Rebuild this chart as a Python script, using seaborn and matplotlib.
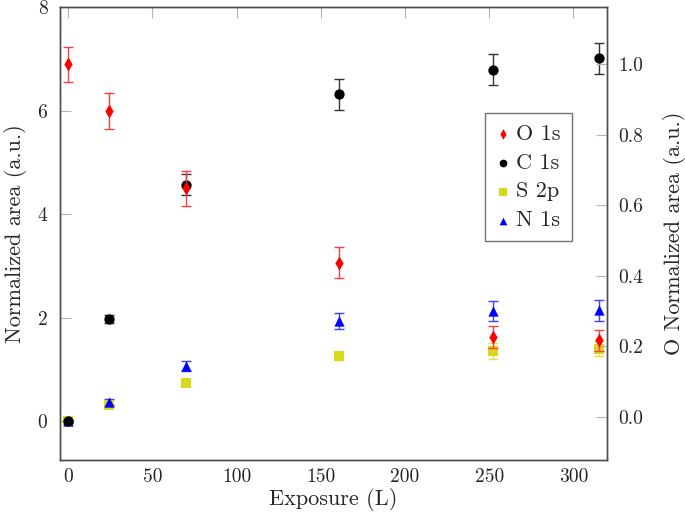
import matplotlib
matplotlib.use("Agg")
import pandas as pd
import seaborn as sns
import matplotlib.pyplot as plt

# exposure values (L)
exposure = [0, 24, 70, 161, 252, 315]

# left axis series
c1s = [0.0, 1.97, 4.57, 6.31, 6.79, 7.01]
c1s_err = [0.03, 0.08, 0.2, 0.3, 0.3, 0.3]
s2p = [0.0, 0.31, 0.74, 1.26, 1.36, 1.40]
s2p_err = [0.02, 0.03, 0.05, 0.08, 0.15, 0.15]
n1s = [0.0, 0.37, 1.07, 1.94, 2.13, 2.14]
n1s_err = [0.02, 0.05, 0.1, 0.15, 0.2, 0.2]

# right axis series
o1s = [1.0, 0.868, 0.649, 0.438, 0.227, 0.218]
o1s_err = [0.05, 0.051, 0.05, 0.045, 0.03, 0.03]

x_ticks = [0, 50, 100, 150, 200, 250, 300]
left_ticks = [0, 2, 4, 6, 8]
right_ticks = [0.0, 0.2, 0.4, 0.6, 0.8, 1.0]

sns.set_style("white")
plt.rcParams["font.family"] = ["cmr10", "DejaVu Serif"]
plt.rcParams["mathtext.fontset"] = "cm"
plt.rcParams["axes.formatter.use_mathtext"] = True

LABEL_FS = 16
TICK_FS = 14
SPINE = "#4d4d4d"
TICK = "#b3b3b3"


def draw_series(ax, y, err, color, ecolor, marker, size, label):
    df = pd.DataFrame({"x": exposure, "y": y})
    ax.errorbar(df["x"], df["y"], yerr=err, fmt="none", ecolor=ecolor,
                elinewidth=1.0, capsize=3.3, capthick=1.0, zorder=2)
    sns.scatterplot(data=df, x="x", y="y", ax=ax, color=color, marker=marker,
                    s=size, linewidth=0, label=label, zorder=3, legend=False)


fig = plt.figure(figsize=(6.85, 5.21), dpi=100)
ax = fig.add_axes([60 / 685, 1 - 460 / 521, 547 / 685, 453 / 521])
ax2 = ax.twinx()

yellow = "#d8d81c"
draw_series(ax, s2p, s2p_err, yellow, "#e0e040", "s", 48, "S 2p")
draw_series(ax, n1s, n1s_err, "#0000ff", "#4040ff", "^", 55, "N 1s")
draw_series(ax, c1s, c1s_err, "black", "#333333", "o", 55, "C 1s")
draw_series(ax2, o1s, o1s_err, "#ff0000", "#ff4040", "d", 50, "O 1s")

ax.set_xlim(-4.9, 320)
ax.set_ylim(-0.75, 8)
ax2.set_ylim(-0.122, 1.163)
ax.set_xticks(x_ticks)
ax.set_yticks(left_ticks)
ax2.set_yticks(right_ticks)
ax.set_xticklabels([str(t) for t in x_ticks])
ax.set_yticklabels([str(t) for t in left_ticks])
ax2.set_yticklabels([f"{t:.1f}" for t in right_ticks])

ax.set_xlabel("Exposure (L)", fontsize=LABEL_FS, labelpad=1)
ax.set_ylabel("Normalized area (a.u.)", fontsize=LABEL_FS, labelpad=8)
ax2.set_ylabel("O Normalized area (a.u.)", fontsize=LABEL_FS, labelpad=14)

for a in (ax, ax2):
    for sp in a.spines.values():
        sp.set_color(SPINE)
        sp.set_linewidth(1.0)
ax.tick_params(axis="x", direction="in", length=8, width=0.8, color=TICK,
               top=True, labelsize=TICK_FS, pad=6)
ax.tick_params(axis="y", direction="in", length=8, width=0.8, color=TICK,
               labelsize=TICK_FS, pad=9)
ax2.tick_params(axis="y", direction="in", length=8, width=0.8, color=TICK,
                labelsize=TICK_FS, pad=8)

# legend combining both axes
h1, l1 = ax.get_legend_handles_labels()
h2, l2 = ax2.get_legend_handles_labels()
handles = dict(zip(l1 + l2, h1 + h2))
order = ["O 1s", "C 1s", "S 2p", "N 1s"]
leg = ax2.legend([handles[k] for k in order], order, loc="upper right",
                 bbox_to_anchor=(0.936, 0.766), borderaxespad=0,
                 fontsize=LABEL_FS, frameon=True,
                 fancybox=False, edgecolor=SPINE, handlelength=0.6,
                 handletextpad=0.3, borderpad=0.5, labelspacing=0.42,
                 markerscale=0.75)
leg.get_frame().set_linewidth(1.0)

fig.savefig("out.png", dpi=100)
